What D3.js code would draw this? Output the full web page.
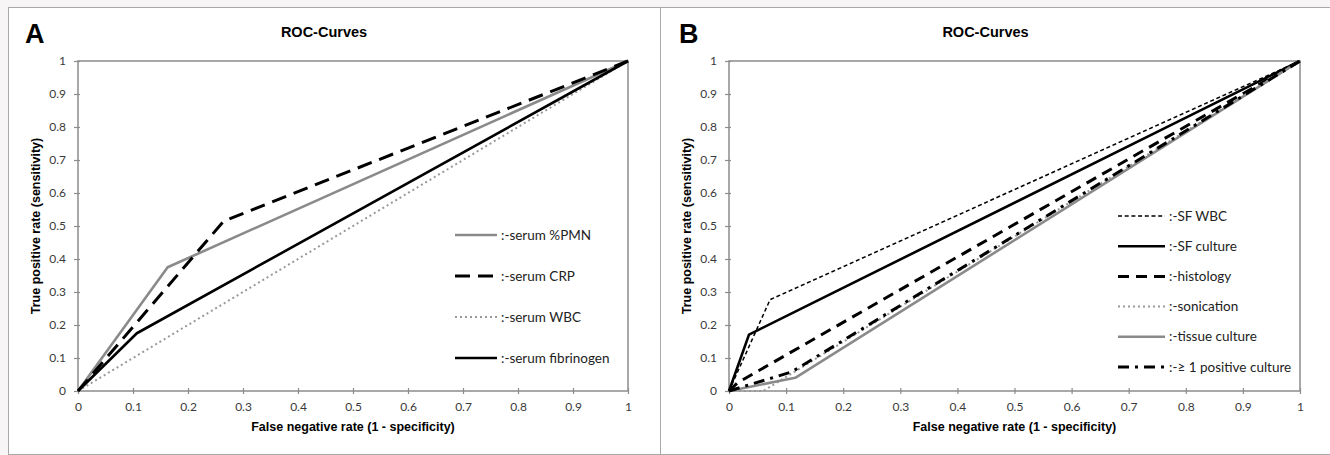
<!DOCTYPE html>
<html>
<head>
<meta charset="utf-8">
<script src="https://cdn.jsdelivr.net/npm/d3@7"></script>
<style>
  body { margin: 0; background: #f7f5f5; }
</style>
</head>
<body>
<script>

// shared tick values
const tickValues = [0, 0.1, 0.2, 0.3, 0.4, 0.5, 0.6, 0.7, 0.8, 0.9, 1]

// panel A  -  serum markers  [fpr, tpr]
const namesA = [":-serum %PMN", ":-serum CRP", ":-serum WBC", ":-serum fibrinogen"]
const serumPMN = [[0, 0], [0.163, 0.375], [1, 1]]
const serumCRP = [[0, 0], [0.265, 0.515], [1, 1]]
const serumWBC = [[0, 0], [1, 1]]
const serumFibrinogen = [[0, 0], [0.107, 0.175], [1, 1]]

// panel B  -  synovial fluid / tissue tests
const namesB = [":-SF WBC", ":-SF culture", ":-histology", ":-sonication", ":-tissue culture", ":-\u2265 1 positive culture"]
const sfWBC = [[0, 0], [0.072, 0.277], [1, 1]]
const sfCulture = [[0, 0], [0.035, 0.171], [1, 1]]
const histology = [[0, 0], [0.015, 0.025], [1, 1]]
const sonication = [[0, 0], [0.06, 0], [1, 1]]
const tissueCulture = [[0, 0], [0.116, 0.04], [1, 1]]
const positiveCulture = [[0, 0], [0.11, 0.058], [1, 1]]

const styleA = [
    {stroke: "#8a8a8a", width: 2.6, dash: null},
    {stroke: "#000", width: 3, dash: "15,8"},
    {stroke: "#999", width: 2, dash: "2,3"},
    {stroke: "#000", width: 2.6, dash: null}
]
const styleB = [
    {stroke: "#000", width: 1.5, dash: "4,2.7"},
    {stroke: "#000", width: 2.6, dash: null},
    {stroke: "#000", width: 3, dash: "11,7"},
    {stroke: "#999", width: 2, dash: "2,3"},
    {stroke: "#8a8a8a", width: 2.6, dash: null},
    {stroke: "#000", width: 3, dash: "11,6,3,6"}
]

const svg = d3.select("body").append("svg")
            .attr("width", 1330)
            .attr("height", 455)

function drawPanel(opt) {

    const g = svg.append("g")

    g.append("rect")
        .attr("x", opt.box[0] + 0.5)
        .attr("y", opt.box[1] + 0.5)
        .attr("width", opt.box[2])
        .attr("height", opt.box[3])
        .style("fill", "white")
        .style("stroke", "#a8a8a8")
        .style("stroke-width", 1)

    const x = d3.scaleLinear().domain([0, 1]).range([opt.left, opt.right])
    const y = d3.scaleLinear().domain([0, 1]).range([391, 61])

    // plot frame
    g.append("rect")
        .attr("x", x(0))
        .attr("y", y(1))
        .attr("width", x(1) - x(0))
        .attr("height", y(0) - y(1))
        .style("fill", "none")
        .style("stroke", "#8c8c8c")
        .style("stroke-width", 1.5)

    const xAxis = g.append("g")
        .attr("transform", `translate(0,${y(0)})`)
        .call(d3.axisBottom(x).tickValues(tickValues).tickFormat(d3.format("~g")).tickSize(3).tickPadding(8))
    xAxis.select(".domain").remove()
    xAxis.selectAll(".tick line").attr("y1", -3).style("stroke", "#8c8c8c").style("stroke-width", 1.2)

    const yAxis = g.append("g")
        .attr("transform", `translate(${x(0)},0)`)
        .call(d3.axisLeft(y).tickValues(tickValues).tickFormat(d3.format("~g")).tickSize(4).tickPadding(8))
    yAxis.select(".domain").remove()
    yAxis.selectAll(".tick line").attr("x1", 2).style("stroke", "#8c8c8c").style("stroke-width", 1.2)

    g.selectAll(".tick text")
        .style("font-family", "Lato, 'Open Sans', sans-serif")
        .style("font-size", "12px")
        .style("fill", "#3a3a3a")

    const line = d3.line().x(d => x(d[0])).y(d => y(d[1]))

    g.selectAll(".roc")
        .data(opt.series)
        .join("path")
        .attr("class", "roc")
        .attr("d", d => line(d))
        .style("fill", "none")
        .style("stroke", (d, i) => opt.styles[i].stroke)
        .style("stroke-width", (d, i) => opt.styles[i].width)
        .style("stroke-dasharray", (d, i) => opt.styles[i].dash)
        .style("stroke-linejoin", "round")

    // legend
    const leg = g.selectAll(".legend")
        .data(opt.names)
        .join("g")
        .attr("class", "legend")
        .attr("transform", (d, i) => `translate(${opt.legX},${opt.legY + i * opt.legStep})`)

    leg.append("line")
        .attr("x1", 0)
        .attr("x2", opt.legLen)
        .style("stroke", (d, i) => opt.styles[i].stroke)
        .style("stroke-width", (d, i) => opt.styles[i].width)
        .style("stroke-dasharray", (d, i) => opt.styles[i].dash)

    leg.append("text")
        .attr("x", opt.legLen + 4)
        .attr("y", 4.5)
        .text(d => d)
        .style("font-family", "Lato, 'Open Sans', sans-serif")
        .style("font-size", "13.5px")
        .style("fill", "#222")

    // titles
    g.append("text")
        .attr("x", (x(0) + x(1)) / 2 - 29)
        .attr("y", 37)
        .attr("text-anchor", "middle")
        .text("ROC-Curves")
        .style("font-family", "'Liberation Sans', Arial, sans-serif")
        .style("font-weight", "bold")
        .style("font-size", "14.5px")

    g.append("text")
        .attr("x", opt.box[0] + opt.letterX)
        .attr("y", 43)
        .text(opt.letter)
        .style("font-family", "'Liberation Sans', Arial, sans-serif")
        .style("font-weight", "bold")
        .style("font-size", "27px")

    g.append("text")
        .attr("x", (x(0) + x(1)) / 2)
        .attr("y", 431)
        .attr("text-anchor", "middle")
        .text("False negative rate (1 - specificity)")
        .style("font-family", "'Liberation Sans', Arial, sans-serif")
        .style("font-weight", "bold")
        .style("font-size", "12.5px")

    g.append("text")
        .attr("transform", `translate(${x(0) - 38.5},${(y(0) + y(1)) / 2}) rotate(-90)`)
        .attr("text-anchor", "middle")
        .text("True positive rate (sensitivity)")
        .style("font-family", "'Liberation Sans', Arial, sans-serif")
        .style("font-weight", "bold")
        .style("font-size", "12.5px")
}

drawPanel({
    box: [8, 7, 652, 447],
    left: 78, right: 628,
    series: [serumPMN, serumCRP, serumWBC, serumFibrinogen],
    names: namesA,
    styles: styleA,
    legX: 455, legY: 235, legStep: 41, legLen: 42,
    letter: "A", letterX: 17
})

drawPanel({
    box: [660, 7, 680, 447],
    left: 729, right: 1300,
    series: [sfWBC, sfCulture, histology, sonication, tissueCulture, positiveCulture],
    names: namesB,
    styles: styleB,
    legX: 1118, legY: 216, legStep: 30.2, legLen: 47,
    letter: "B", letterX: 19
})

</script>
</body>
</html>
